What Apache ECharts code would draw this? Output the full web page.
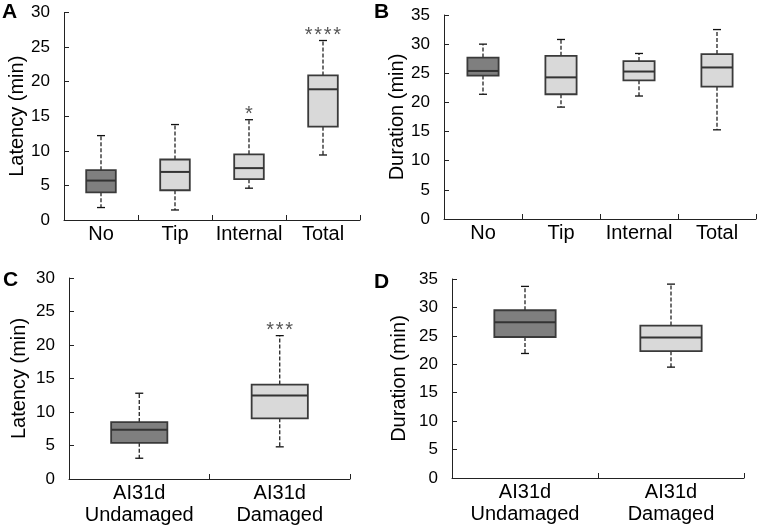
<!DOCTYPE html>
<html>
<head>
<meta charset="utf-8">
<script src="https://cdn.jsdelivr.net/npm/echarts@6/dist/echarts.min.js"></script>
<style>
html,body{margin:0;padding:0;background:#fff;}
#c{width:758px;height:528px;}
</style>
</head>
<body>
<div id="c"></div>
<script>
// ---- data: [min, Q1, median, Q3, max] ----
const catsTop = ['No', 'Tip', 'Internal', 'Total'];
const catsBottom = ['AI31d\nUndamaged', 'AI31d\nDamaged'];

const latencyA = [
  [1.8, 4.0, 5.7, 7.2, 12.2],
  [1.45, 4.3, 6.95, 8.75, 13.8],
  [4.6, 5.9, 7.5, 9.5, 14.5],
  [9.4, 13.5, 18.9, 20.9, 25.95]
];
const starsA = ['', '', '*', '****'];

const durationB = [
  [21.4, 24.6, 25.4, 27.7, 30.0],
  [19.2, 21.4, 24.3, 28.0, 30.8],
  [21.1, 23.8, 25.3, 27.1, 28.4],
  [15.3, 22.7, 26.0, 28.3, 32.5]
];
const starsB = ['', '', '', ''];

const latencyC = [
  [3.1, 5.4, 7.35, 8.5, 12.8],
  [4.8, 9.05, 12.45, 14.1, 21.4]
];
const starsC = ['', '***'];

const durationD = [
  [21.9, 24.8, 27.4, 29.5, 33.7],
  [19.5, 22.3, 24.7, 26.8, 34.1]
];
const starsD = ['', ''];

const fillTop = ['#7f7f7f', '#d9d9d9', '#d9d9d9', '#d9d9d9'];
const fillBottom = ['#7f7f7f', '#d9d9d9'];

const yTicksLatency = {min: 0, max: 30, interval: 5};
const yTicksDuration = {min: 0, max: 35, interval: 5};

// ---- rendering ----
const chart = echarts.init(document.getElementById('c'), null, {renderer: 'canvas'});
const FONT = 'Liberation Sans, Arial, sans-serif';

function makeRender(fills, stars, frac) {
  return function (params, api) {
    const i = api.value(0);
    const lo = api.coord([i, api.value(1)]);
    const q1 = api.coord([i, api.value(2)]);
    const md = api.coord([i, api.value(3)]);
    const q3 = api.coord([i, api.value(4)]);
    const hi = api.coord([i, api.value(5)]);
    const bw = api.size([1, 0])[0] * frac;
    const cx = q1[0];
    const capW = 8;
    const children = [
      {type: 'line', shape: {x1: cx, y1: q3[1], x2: cx, y2: hi[1]},
        style: {stroke: '#111', lineWidth: 1.2, lineDash: [4, 2]}},
      {type: 'line', shape: {x1: cx, y1: q1[1], x2: cx, y2: lo[1]},
        style: {stroke: '#111', lineWidth: 1.2, lineDash: [4, 2]}},
      {type: 'line', shape: {x1: cx - capW / 2, y1: hi[1], x2: cx + capW / 2, y2: hi[1]},
        style: {stroke: '#111', lineWidth: 1.3}},
      {type: 'line', shape: {x1: cx - capW / 2, y1: lo[1], x2: cx + capW / 2, y2: lo[1]},
        style: {stroke: '#111', lineWidth: 1.3}},
      {type: 'rect', shape: {x: cx - bw / 2, y: q3[1], width: bw, height: q1[1] - q3[1]},
        style: {fill: fills[params.dataIndex], stroke: '#3a3a3a', lineWidth: 1.8}},
      {type: 'line', shape: {x1: cx - bw / 2, y1: md[1], x2: cx + bw / 2, y2: md[1]},
        style: {stroke: '#333', lineWidth: 2}}
    ];
    const s = stars[params.dataIndex];
    if (s) {
      const n = s.length, sp = 9.5;
      for (let k = 0; k < n; k++) {
        children.push({type: 'text', style: {
          text: '*', x: cx + (k - (n - 1) / 2) * sp, y: hi[1] + 5,
          fill: '#555', font: '20px ' + FONT, align: 'center', verticalAlign: 'bottom'}});
      }
    }
    return {type: 'group', children: children};
  };
}

const grids = [
  {left: 64, top: 12.5, width: 296, height: 207.5},
  {left: 444, top: 15, width: 312, height: 204},
  {left: 69, top: 278, width: 281, height: 201},
  {left: 452, top: 279, width: 292, height: 199}
];

function xAx(gi, cats) {
  return {
    type: 'category', gridIndex: gi, data: cats, boundaryGap: true,
    axisLine: {show: true, lineStyle: {color: '#222', width: 1}},
    axisTick: {show: true, inside: true, length: 5, lineStyle: {color: '#222'}},
    axisLabel: {color: '#000', fontSize: 20, fontFamily: FONT, margin: 3, lineHeight: 22, interval: 0},
    splitLine: {show: false}
  };
}
function yAx(gi, t, name, gap) {
  return {
    type: 'value', gridIndex: gi, min: t.min, max: t.max, interval: t.interval,
    name: name, nameLocation: 'middle', nameGap: gap,
    nameTextStyle: {color: '#000', fontSize: 20, fontFamily: FONT},
    axisLine: {show: true, lineStyle: {color: '#222', width: 1}},
    axisTick: {show: true, inside: true, length: 5, lineStyle: {color: '#222'}},
    axisLabel: {color: '#000', fontSize: 17, fontFamily: FONT, margin: 14},
    splitLine: {show: false}
  };
}
function toData(arr) { return arr.map((v, i) => [i].concat(v)); }

const option = {
  animation: false,
  backgroundColor: '#fff',
  grid: grids,
  xAxis: [xAx(0, catsTop), xAx(1, catsTop), xAx(2, catsBottom), xAx(3, catsBottom)],
  yAxis: [
    yAx(0, yTicksLatency, 'Latency (min)', 34),
    yAx(1, yTicksDuration, 'Duration (min)', 34),
    yAx(2, yTicksLatency, 'Latency (min)', 40),
    yAx(3, yTicksDuration, 'Duration (min)', 43)
  ],
  series: [
    {type: 'custom', xAxisIndex: 0, yAxisIndex: 0, renderItem: makeRender(fillTop, starsA, 0.4), data: toData(latencyA), encode: {x: 0, y: [1, 2, 3, 4, 5]}},
    {type: 'custom', xAxisIndex: 1, yAxisIndex: 1, renderItem: makeRender(fillTop, starsB, 0.4), data: toData(durationB), encode: {x: 0, y: [1, 2, 3, 4, 5]}},
    {type: 'custom', xAxisIndex: 2, yAxisIndex: 2, renderItem: makeRender(fillBottom, starsC, 0.4), data: toData(latencyC), encode: {x: 0, y: [1, 2, 3, 4, 5]}},
    {type: 'custom', xAxisIndex: 3, yAxisIndex: 3, renderItem: makeRender(fillBottom, starsD, 0.42), data: toData(durationD), encode: {x: 0, y: [1, 2, 3, 4, 5]}}
  ],
  graphic: [
    {type: 'text', left: 2, top: 2, style: {text: 'A', font: 'bold 21px ' + FONT, fill: '#000'}},
    {type: 'text', left: 374, top: 2, style: {text: 'B', font: 'bold 21px ' + FONT, fill: '#000'}},
    {type: 'text', left: 3, top: 270, style: {text: 'C', font: 'bold 21px ' + FONT, fill: '#000'}},
    {type: 'text', left: 374, top: 272, style: {text: 'D', font: 'bold 21px ' + FONT, fill: '#000'}}
  ]
};
chart.setOption(option);
</script>
</body>
</html>
